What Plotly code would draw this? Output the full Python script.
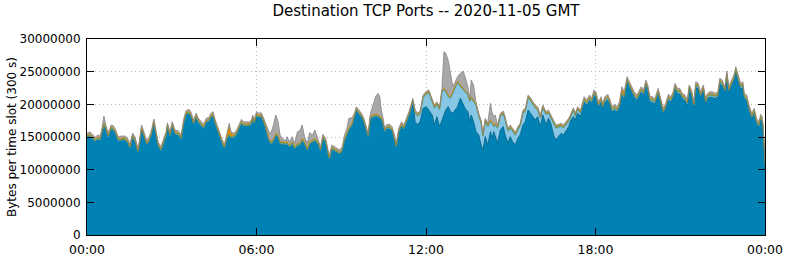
import pandas as pd
import plotly.graph_objects as go

# time of each sample, minutes after 2020-11-05 00:00 GMT
t_min = [
    0, 6, 13, 17, 23, 28, 31, 36, 40, 45,
    51, 56, 61, 66, 74, 81, 86, 91, 97, 102,
    108, 111, 116, 121, 127, 132, 137, 142, 147, 151,
    157, 162, 168, 171, 176, 181, 187, 194, 200, 205,
    210, 217, 222, 226, 232, 236, 242,
    248, 253, 259, 263, 268, 272, 277, 282, 287, 292,
    297, 302, 306, 312, 318, 323, 328, 333, 339, 344,
    349, 352, 355, 360, 365, 370, 374, 380, 385, 390,
    395, 401, 406, 410, 415, 421, 425, 430, 436, 441,
    447, 452, 457, 462, 468, 473, 479, 484,
    491, 496, 501, 507, 512, 515, 520, 526, 531, 537,
    542, 547, 552, 556, 563, 568, 572, 578, 583, 588,
    593, 597, 602, 607, 613, 618, 622, 625, 629, 632,
    637, 643, 648, 653, 657, 662, 668, 673, 678, 685,
    692, 697, 703, 708, 714, 721, 726,
    733, 738, 743, 749, 754, 758, 762, 767, 772, 777,
    782, 787, 793, 799, 803, 809, 813, 816, 821, 826,
    832, 837, 841, 846, 851, 857, 860, 864, 867, 872,
    878, 884, 888, 894, 899, 904, 910, 915, 920, 926,
    931, 937, 942, 947, 952, 957, 963, 968,
    975, 980, 985, 991, 996, 1001, 1007, 1012, 1017, 1023,
    1028, 1033, 1037, 1042, 1048, 1053,
    1056, 1062, 1067, 1072, 1077, 1081, 1086, 1092, 1095, 1100,
    1106, 1111, 1115, 1120, 1126, 1131, 1136, 1141, 1147, 1152,
    1157, 1162, 1168, 1172, 1177, 1182, 1187, 1191, 1196, 1202,
    1206,
    1213, 1218, 1224, 1229, 1235, 1240, 1245, 1249, 1254, 1259,
    1264, 1270, 1275, 1279, 1284, 1289, 1293, 1298, 1303, 1309,
    1314, 1318, 1323, 1328, 1334, 1340, 1344, 1349, 1355, 1359,
    1363, 1369, 1374, 1378, 1383, 1388, 1393, 1396, 1401, 1406,
    1412, 1417, 1422, 1427, 1431, 1434, 1436, 1440,
]

# total bytes per slot (millions)
total = [
    15.57, 15.81, 15.31, 14.95, 15.31, 15.15, 16.07, 18.21, 16.84, 15.61,
    16.84, 16.73, 16.07, 15.05, 15.15, 15.15, 14.85, 13.93, 15.61, 15.00,
    13.32, 14.28, 16.84, 15.81, 14.43, 15.00, 16.07, 17.75, 15.61, 14.28,
    13.52, 14.54, 15.81, 17.19, 15.81, 17.34, 16.07, 15.96, 15.31, 17.60,
    19.03, 19.24, 18.63, 17.60, 18.67, 17.91, 17.34,
    16.94, 17.86, 18.02, 18.63, 18.87, 17.71, 16.58, 15.57, 14.65, 13.88,
    15.31, 17.10, 15.81, 15.57, 16.07, 16.99, 17.71, 17.34, 17.34, 17.30,
    17.60, 18.37, 17.71, 18.87, 18.63, 18.72, 18.11, 16.84, 16.07, 15.46,
    16.58, 18.37, 17.34, 15.31, 14.80, 14.43, 15.05, 14.28, 15.05, 14.04,
    15.81, 15.96, 16.84, 15.05, 14.04, 15.66, 15.31, 16.07,
    14.54, 13.52, 15.41, 14.80, 13.01, 12.24, 13.78, 13.52, 13.27, 13.01,
    13.52, 15.31, 16.33, 17.86, 17.95, 18.63, 19.64, 18.98, 18.63, 17.86,
    16.58, 15.57, 18.63, 19.90, 21.17, 21.69, 21.17, 19.13, 17.86, 16.33,
    16.94, 16.94, 16.58, 15.31, 14.04, 16.33, 17.34, 16.84, 17.86, 19.13,
    20.92, 19.13, 18.63, 19.13, 21.43, 22.04, 22.19,
    20.92, 19.90, 20.40, 19.64, 22.45, 28.06, 27.81, 26.79, 24.75, 22.70,
    23.46, 24.23, 24.75, 25.10, 24.23, 22.70, 20.92, 23.72, 22.96, 20.40,
    18.63, 17.60, 15.57, 17.86, 17.10, 20.16, 18.87, 18.11, 18.37, 16.84,
    18.63, 18.98, 18.11, 16.33, 16.84, 16.33, 15.72, 16.58, 17.10, 19.13,
    19.39, 21.43, 21.02, 20.40, 19.90, 19.64, 18.37, 19.90,
    18.87, 19.13, 18.37, 17.34, 16.84, 16.94, 17.10, 16.84, 17.34, 17.86,
    18.63, 19.48, 18.63, 19.64, 19.13, 20.40,
    21.17, 20.66, 21.43, 21.02, 22.19, 21.93, 20.40, 21.17, 20.16, 21.17,
    21.54, 20.66, 19.64, 20.00, 19.64, 20.40, 22.70, 21.93, 24.23, 23.46,
    22.70, 21.93, 21.43, 21.93, 22.70, 22.19, 23.72, 22.96, 21.17, 21.17,
    20.82,
    22.45, 20.92, 19.39, 20.16, 21.54, 21.17, 21.93, 23.22, 22.45, 22.45,
    21.69, 21.43, 20.66, 22.96, 22.19, 20.40, 23.46, 23.22, 21.93, 22.96,
    20.92, 21.69, 21.93, 21.93, 21.69, 21.93, 23.98, 23.72, 22.70, 25.10,
    22.70, 23.72, 24.49, 25.76, 24.49, 23.22, 23.46, 21.69, 21.43, 19.90,
    18.63, 19.39, 17.86, 17.34, 18.47, 18.11, 16.84, 11.22,
]

# main port (dark blue), millions
port_blue = [
    14.87, 15.11, 14.61, 14.25, 14.61, 14.45, 15.37, 16.70, 16.14, 14.91,
    16.14, 16.03, 15.37, 14.35, 14.45, 14.45, 14.15, 13.23, 14.91, 14.30,
    12.62, 13.58, 16.14, 15.11, 13.73, 14.30, 15.37, 17.05, 14.91, 13.58,
    12.82, 13.84, 15.11, 16.49, 15.11, 16.64, 15.37, 15.26, 14.61, 16.90,
    18.33, 18.54, 17.93, 16.90, 17.97, 17.21, 16.64,
    16.24, 17.16, 17.32, 17.93, 18.17, 17.01, 15.88, 14.87, 13.95, 13.18,
    14.61, 15.15, 14.80, 14.87, 15.37, 16.29, 17.01, 16.64, 16.64, 16.60,
    16.90, 17.67, 17.01, 18.17, 17.93, 18.02, 17.41, 16.13, 14.65, 13.88,
    14.14, 15.17, 14.91, 13.88, 13.88, 13.76, 13.88, 13.38, 13.88, 13.12,
    13.64, 13.64, 14.40, 13.88, 12.87, 13.88, 14.14, 14.40,
    13.84, 12.82, 14.71, 14.10, 12.31, 11.54, 13.08, 12.82, 12.57, 12.31,
    12.82, 14.40, 15.21, 15.98, 16.74, 17.97, 19.04, 18.43, 18.04, 17.28,
    15.98, 14.98, 17.81, 17.97, 18.12, 18.04, 17.89, 17.66, 16.90, 15.75,
    16.24, 16.24, 15.88, 14.61, 13.34, 15.63, 16.64, 16.14, 17.16, 18.43,
    20.20, 17.34, 16.84, 17.45, 19.39, 19.64, 19.13,
    18.37, 16.84, 18.11, 16.58, 17.60, 18.11, 19.13, 19.64, 18.87, 18.63,
    19.13, 19.64, 20.92, 19.90, 19.39, 18.87, 17.34, 18.37, 17.34, 15.81,
    15.31, 13.78, 13.01, 15.05, 13.78, 15.81, 14.80, 15.81, 15.05, 14.04,
    16.07, 16.58, 15.31, 14.04, 15.05, 14.28, 13.78, 14.80, 15.31, 16.84,
    17.34, 19.13, 18.63, 18.11, 17.60, 18.11, 16.58, 18.37,
    16.84, 17.86, 17.10, 15.31, 14.54, 15.05, 15.57, 15.31, 15.81, 16.58,
    17.60, 18.11, 17.60, 18.63, 18.11, 19.39,
    20.32, 19.81, 20.58, 20.17, 21.34, 21.08, 19.55, 20.32, 19.31, 20.32,
    20.69, 19.81, 18.79, 19.15, 18.79, 19.55, 21.40, 20.83, 23.38, 22.61,
    21.85, 21.08, 20.58, 21.08, 21.85, 21.34, 22.87, 22.11, 20.32, 20.32,
    19.97,
    21.60, 20.07, 18.54, 19.31, 20.69, 20.32, 21.08, 22.37, 21.60, 21.60,
    20.84, 20.58, 19.81, 22.11, 21.34, 19.55, 22.61, 22.37, 21.08, 22.11,
    20.07, 20.84, 21.08, 21.08, 20.84, 21.08, 23.13, 22.87, 21.85, 24.25,
    21.85, 22.87, 23.64, 24.91, 23.64, 22.37, 22.61, 20.84, 20.58, 19.05,
    17.78, 18.54, 17.01, 16.49, 17.62, 17.26, 15.99, 10.50,
]

# second port (light blue), millions
port_light = [
    0.1, 0.1, 0.1, 0.1, 0.1, 0.1, 0.1, 0.1, 0.1, 0.1,
    0.1, 0.1, 0.1, 0.1, 0.1, 0.1, 0.1, 0.1, 0.1, 0.1,
    0.1, 0.1, 0.1, 0.1, 0.1, 0.1, 0.1, 0.1, 0.1, 0.1,
    0.1, 0.1, 0.1, 0.1, 0.1, 0.1, 0.1, 0.1, 0.1, 0.1,
    0.1, 0.1, 0.1, 0.1, 0.1, 0.1, 0.1,
    0.1, 0.1, 0.1, 0.1, 0.1, 0.1, 0.1, 0.1, 0.1, 0.1,
    0.1, 0.1, 0.1, 0.1, 0.1, 0.1, 0.1, 0.1, 0.1, 0.1,
    0.1, 0.1, 0.1, 0.1, 0.1, 0.1, 0.1, 0.1, 0.1, 0.1,
    0.1, 0.1, 0.1, 0.1, 0.1, 0.1, 0.1, 0.1, 0.1, 0.1,
    0.1, 0.1, 0.1, 0.1, 0.1, 0.1, 0.1, 0.1,
    0.1, 0.1, 0.1, 0.1, 0.1, 0.1, 0.1, 0.1, 0.1, 0.1,
    0.1, 0.1, 0.1, 0.1, 0.1, 0.1, 0.1, 0.1, 0.1, 0.1,
    0.1, 0.1, 0.1, 0.1, 0.1, 0.1, 0.1, 0.1, 0.1, 0.1,
    0.1, 0.1, 0.1, 0.1, 0.1, 0.1, 0.1, 0.1, 0.1, 0.1,
    0.22, 1.29, 1.29, 1.18, 1.54, 1.90, 2.56,
    1.99, 2.53, 1.79, 2.56, 4.29, 4.04, 2.76, 1.49, 2.00, 3.00,
    3.27, 3.63, 1.74, 2.25, 2.50, 2.52, 3.02, 2.50, 3.02, 4.05,
    2.83, 3.29, 2.07, 2.33, 2.76, 1.49, 2.24, 0.73, 1.75, 2.27,
    2.07, 1.87, 2.30, 1.81, 1.26, 1.57, 1.46, 1.28, 1.30, 1.76,
    1.57, 1.77, 1.89, 1.79, 1.77, 1.03, 1.26, 1.00,
    1.53, 0.77, 0.77, 1.53, 1.80, 1.39, 1.03, 1.03, 1.03, 0.78,
    0.53, 0.87, 0.53, 0.51, 0.52, 0.51,
    0.25, 0.25, 0.25, 0.25, 0.25, 0.25, 0.25, 0.25, 0.25, 0.25,
    0.25, 0.25, 0.25, 0.25, 0.25, 0.25, 0.25, 0.25, 0.25, 0.25,
    0.25, 0.25, 0.25, 0.25, 0.25, 0.25, 0.25, 0.25, 0.25, 0.25,
    0.25,
    0.25, 0.25, 0.25, 0.25, 0.25, 0.25, 0.25, 0.25, 0.25, 0.25,
    0.25, 0.25, 0.25, 0.25, 0.25, 0.25, 0.25, 0.25, 0.25, 0.25,
    0.25, 0.25, 0.25, 0.25, 0.25, 0.25, 0.25, 0.25, 0.25, 0.25,
    0.25, 0.25, 0.25, 0.25, 0.25, 0.25, 0.25, 0.25, 0.25, 0.25,
    0.25, 0.25, 0.25, 0.25, 0.25, 0.25, 0.25, 0.25,
]

# third port (green), millions
port_green = [
    0.15, 0.15, 0.15, 0.15, 0.15, 0.15, 0.15, 0.15, 0.15, 0.15,
    0.15, 0.15, 0.15, 0.15, 0.15, 0.15, 0.15, 0.15, 0.15, 0.15,
    0.15, 0.15, 0.15, 0.15, 0.15, 0.15, 0.15, 0.15, 0.15, 0.15,
    0.15, 0.15, 0.15, 0.15, 0.15, 0.15, 0.15, 0.15, 0.15, 0.15,
    0.15, 0.15, 0.15, 0.15, 0.15, 0.15, 0.15,
    0.15, 0.15, 0.15, 0.15, 0.15, 0.15, 0.15, 0.15, 0.15, 0.15,
    0.15, 0.15, 0.15, 0.15, 0.15, 0.15, 0.15, 0.15, 0.15, 0.15,
    0.15, 0.15, 0.15, 0.15, 0.15, 0.15, 0.15, 0.15, 0.15, 0.15,
    0.15, 0.15, 0.15, 0.15, 0.15, 0.15, 0.15, 0.15, 0.15, 0.15,
    0.15, 0.15, 0.15, 0.15, 0.15, 0.15, 0.15, 0.15,
    0.15, 0.15, 0.15, 0.15, 0.15, 0.15, 0.15, 0.15, 0.15, 0.15,
    0.15, 0.15, 0.15, 0.15, 0.15, 0.15, 0.15, 0.15, 0.15, 0.15,
    0.15, 0.15, 0.15, 0.15, 0.15, 0.15, 0.15, 0.15, 0.15, 0.15,
    0.15, 0.15, 0.15, 0.15, 0.15, 0.15, 0.15, 0.15, 0.15, 0.15,
    0.15, 0.15, 0.15, 0.15, 0.15, 0.15, 0.15,
    0.15, 0.15, 0.15, 0.15, 0.15, 0.15, 0.15, 0.15, 0.15, 0.15,
    0.15, 0.15, 0.15, 0.15, 0.15, 0.15, 0.15, 0.15, 0.15, 0.15,
    0.15, 0.15, 0.15, 0.15, 0.15, 0.15, 0.15, 0.15, 0.15, 0.15,
    0.15, 0.15, 0.15, 0.15, 0.15, 0.15, 0.15, 0.15, 0.15, 0.15,
    0.15, 0.15, 0.15, 0.15, 0.15, 0.15, 0.15, 0.15,
    0.15, 0.15, 0.15, 0.15, 0.15, 0.15, 0.15, 0.15, 0.15, 0.15,
    0.15, 0.15, 0.15, 0.15, 0.15, 0.15,
    0.15, 0.15, 0.15, 0.15, 0.15, 0.15, 0.15, 0.15, 0.15, 0.15,
    0.15, 0.15, 0.15, 0.15, 0.15, 0.15, 0.15, 0.15, 0.15, 0.15,
    0.15, 0.15, 0.15, 0.15, 0.15, 0.15, 0.15, 0.15, 0.15, 0.15,
    0.15,
    0.15, 0.15, 0.15, 0.15, 0.15, 0.15, 0.15, 0.15, 0.15, 0.15,
    0.15, 0.15, 0.15, 0.15, 0.15, 0.15, 0.15, 0.15, 0.15, 0.15,
    0.15, 0.15, 0.15, 0.15, 0.15, 0.15, 0.15, 0.15, 0.15, 0.15,
    0.15, 0.15, 0.15, 0.15, 0.15, 0.15, 0.15, 0.15, 0.15, 0.15,
    0.15, 0.15, 0.15, 0.15, 0.15, 0.15, 0.15, 0.15,
]

# fourth port (orange), millions
port_orange = [
    0.15, 0.15, 0.15, 0.15, 0.15, 0.15, 0.15, 0.15, 0.15, 0.15,
    0.15, 0.15, 0.15, 0.15, 0.15, 0.15, 0.15, 0.15, 0.15, 0.15,
    0.15, 0.15, 0.15, 0.15, 0.15, 0.15, 0.15, 0.15, 0.15, 0.15,
    0.15, 0.15, 0.15, 0.15, 0.15, 0.15, 0.15, 0.15, 0.15, 0.15,
    0.15, 0.15, 0.15, 0.15, 0.15, 0.15, 0.15,
    0.15, 0.15, 0.15, 0.15, 0.15, 0.15, 0.15, 0.15, 0.15, 0.15,
    0.15, 1.20, 0.50, 0.15, 0.15, 0.15, 0.15, 0.15, 0.15, 0.15,
    0.15, 0.15, 0.15, 0.15, 0.15, 0.15, 0.15, 0.15, 0.15, 0.15,
    0.15, 0.15, 0.15, 0.15, 0.15, 0.15, 0.15, 0.15, 0.15, 0.15,
    0.15, 0.15, 0.15, 0.15, 0.15, 0.15, 0.15, 0.15,
    0.15, 0.15, 0.15, 0.15, 0.15, 0.15, 0.15, 0.15, 0.15, 0.15,
    0.15, 0.15, 0.15, 0.15, 0.15, 0.15, 0.15, 0.15, 0.15, 0.15,
    0.15, 0.15, 0.15, 0.15, 0.15, 0.15, 0.15, 0.15, 0.15, 0.15,
    0.15, 0.15, 0.15, 0.15, 0.15, 0.15, 0.15, 0.15, 0.15, 0.15,
    0.15, 0.15, 0.15, 0.15, 0.15, 0.15, 0.15,
    0.15, 0.15, 0.15, 0.15, 0.15, 0.15, 0.15, 0.15, 0.15, 0.15,
    0.15, 0.15, 0.15, 0.15, 0.15, 0.15, 0.15, 0.15, 0.15, 0.15,
    0.15, 0.15, 0.15, 0.15, 0.15, 0.15, 0.15, 0.15, 0.15, 0.15,
    0.15, 0.15, 0.15, 0.15, 0.15, 0.15, 0.15, 0.15, 0.15, 0.15,
    0.15, 0.15, 0.15, 0.15, 0.15, 0.15, 0.15, 0.15,
    0.15, 0.15, 0.15, 0.15, 0.15, 0.15, 0.15, 0.15, 0.15, 0.15,
    0.15, 0.15, 0.15, 0.15, 0.15, 0.15,
    0.15, 0.15, 0.15, 0.15, 0.15, 0.15, 0.15, 0.15, 0.15, 0.15,
    0.15, 0.15, 0.15, 0.15, 0.15, 0.15, 0.60, 0.40, 0.15, 0.15,
    0.15, 0.15, 0.15, 0.15, 0.15, 0.15, 0.15, 0.15, 0.15, 0.15,
    0.15,
    0.15, 0.15, 0.15, 0.15, 0.15, 0.15, 0.15, 0.15, 0.15, 0.15,
    0.15, 0.15, 0.15, 0.15, 0.15, 0.15, 0.15, 0.15, 0.15, 0.15,
    0.15, 0.15, 0.15, 0.15, 0.15, 0.15, 0.15, 0.15, 0.15, 0.15,
    0.15, 0.15, 0.15, 0.15, 0.15, 0.15, 0.15, 0.15, 0.15, 0.15,
    0.15, 0.15, 0.15, 0.15, 0.15, 0.15, 0.15, 0.15,
]

y_ticks = [0, 5000000, 10000000, 15000000, 20000000, 25000000, 30000000]
x_tick_labels = ["00:00", "06:00", "12:00", "18:00", "00:00"]

n = len(t_min)
assert all(len(a) == n for a in (total, port_blue, port_light, port_green, port_orange)), \
    [len(a) for a in (t_min, total, port_blue, port_light, port_green, port_orange)]

base = pd.Timestamp("2020-11-05 00:00")
times = [base + pd.Timedelta(minutes=m) for m in t_min]
M = 1e6
# remaining ports (gray) = total minus the four named ports
port_other = [max(t - b - l - g - o, 0.0) for t, b, l, g, o in
              zip(total, port_blue, port_light, port_green, port_orange)]

layers = [
    (port_blue, "#0083b4", "#00688f", 1.0),
    (port_light, "#88c6e6", "#5ea6cc", 0.8),
    (port_green, "#4c9a40", "#3f8a35", 0.6),
    (port_orange, "#e08c00", "#c27800", 0.6),
    (port_other, "#a8a8a8", "#858585", 0.8),
]

fig = go.Figure()
for vals, fill, edge, lw in layers:
    fig.add_trace(go.Scatter(
        x=times, y=[v * M for v in vals], mode="lines", stackgroup="one",
        fillcolor=fill, line=dict(color=edge, width=lw), showlegend=False,
        hoverinfo="skip",
    ))

font = "DejaVu Sans"
tickvals_x = [base + pd.Timedelta(hours=6 * i) for i in range(5)]
fig.update_layout(
    width=786, height=260,
    margin=dict(l=87, r=21, t=39, b=25, autoexpand=False),
    paper_bgcolor="white", plot_bgcolor="white",
    font=dict(family=font, size=12, color="black"),
    title=dict(text="Destination TCP Ports -- 2020-11-05 GMT", x=426 / 786, xanchor="center",
               y=1 - 11 / 260, yanchor="middle", yref="container", automargin=False,
               font=dict(family=font, size=15, color="black")),
)
grid = dict(showgrid=True, gridcolor="#b8b8b8", griddash="1px,3px", gridwidth=1)
fig.update_xaxes(
    range=[tickvals_x[0], tickvals_x[-1]], tickvals=tickvals_x, ticktext=x_tick_labels,
    showline=True, linecolor="black", linewidth=1, mirror="ticks",
    ticks="inside", ticklen=7, tickcolor="black", automargin=False,
    zeroline=False, tickfont=dict(size=12.5), ticklabelstandoff=3, **grid,
)
fig.update_yaxes(
    range=[0, 30000000], tickvals=y_ticks, ticktext=[str(v) for v in y_ticks],
    showline=True, linecolor="black", linewidth=1, mirror="ticks",
    ticks="inside", ticklen=7, tickcolor="black", automargin=False,
    zeroline=False, tickfont=dict(size=12), ticklabelstandoff=3, **grid,
)
fig.add_annotation(
    text="Bytes per time slot (300 s)", xref="paper", yref="paper",
    x=(12 - 87) / 678, y=0.5, xanchor="center", yanchor="middle",
    textangle=-90, showarrow=False, font=dict(family=font, size=12),
)
fig.write_html("out.html")
